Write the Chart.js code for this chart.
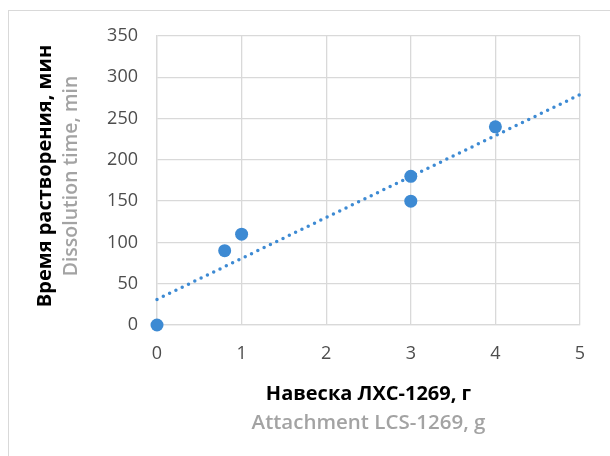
<!DOCTYPE html>
<html>
<head>
<meta charset="utf-8">
<script src="https://cdn.jsdelivr.net/npm/chart.js@4.4.1/dist/chart.umd.min.js"></script>
<style>
html,body{margin:0;padding:0;background:#fff;}
canvas{display:block;}
</style>
</head>
<body>
<canvas id="c" width="610" height="456"></canvas>
<script>
// Data
const massX = [0, 0.8, 1, 3, 3, 4];
const timeY = [0, 90, 110, 180, 150, 240];
// Linear trendline endpoints
const trendX = [0, 5];
const trendY = [31, 279];
const xTicks = [0, 1, 2, 3, 4, 5];
const yTicks = [0, 50, 100, 150, 200, 250, 300, 350];
const yTitleRu = 'Время растворения, мин';
const yTitleEn = 'Dissolution time, min';
const xTitleRu = 'Навеска ЛХС-1269, г';
const xTitleEn = 'Attachment LCS-1269, g';

const FONT = "'Open Sans', 'Noto Sans', sans-serif";
const BLUE = '#3d8ad3';

const titlesPlugin = {
  id: 'titles',
  beforeDraw(chart) {
    const ctx = chart.ctx;
    ctx.save();
    ctx.fillStyle = '#fff';
    ctx.fillRect(0, 0, chart.width, chart.height);
    ctx.strokeStyle = '#d9d9d9';
    ctx.lineWidth = 1;
    ctx.strokeRect(8.5, 10.5, 800, 800);
    ctx.restore();
  },
  afterDraw(chart) {
    const ctx = chart.ctx;
    const a = chart.chartArea;
    const cx = (a.left + a.right) / 2;
    const cy = 176;
    ctx.save();
    ctx.textAlign = 'center';
    ctx.textBaseline = 'middle';
    // x titles
    ctx.font = 'bold 20px ' + FONT;
    ctx.fillStyle = '#000';
    ctx.fillText(xTitleRu, cx, 394);
    ctx.font = '600 20.5px ' + FONT;
    ctx.fillStyle = '#a3a3a3';
    ctx.fillText(xTitleEn, cx, 423);
    // y titles
    ctx.translate(45, cy);
    ctx.rotate(-Math.PI / 2);
    ctx.font = 'bold 20px ' + FONT;
    ctx.fillStyle = '#000';
    ctx.fillText(yTitleRu, 0, 0);
    ctx.font = '600 19.5px ' + FONT;
    ctx.fillStyle = '#a3a3a3';
    ctx.fillText(yTitleEn, 0, 26);
    ctx.restore();
  }
};

new Chart(document.getElementById('c'), {
  type: 'scatter',
  data: {
    datasets: [
      {
        label: 'trend',
        type: 'line',
        data: trendX.map((x, i) => ({x: x, y: trendY[i]})),
        borderColor: BLUE,
        borderWidth: 3.5,
        borderDash: [0, 7],
        borderCapStyle: 'round',
        pointRadius: 0,
        fill: false,
        clip: false,
        order: 2
      },
      {
        label: 'data',
        data: massX.map((x, i) => ({x: x, y: timeY[i]})),
        backgroundColor: BLUE,
        borderColor: BLUE,
        pointRadius: 6.5,
        pointBorderWidth: 0,
        clip: false,
        order: 1
      }
    ]
  },
  options: {
    responsive: false,
    animation: false,
    layout: {padding: {left: 0, right: 30, top: 36, bottom: 0}},
    plugins: {legend: {display: false}, tooltip: {enabled: false}},
    scales: {
      x: {
        type: 'linear',
        min: 0, max: 5,
        afterFit(s) { s.height = 131; },
        afterBuildTicks(s) { s.ticks = xTicks.map(v => ({value: v})); },
        grid: {color: '#d9d9d9', lineWidth: 1.3, drawTicks: false},
        border: {color: '#d9d9d9', width: 1.3},
        ticks: {color: '#4d4d4d', font: {family: FONT, size: 18}, padding: 18}
      },
      y: {
        type: 'linear',
        min: 0, max: 350,
        afterFit(s) { s.width = 157; },
        afterBuildTicks(s) { s.ticks = yTicks.map(v => ({value: v})); },
        grid: {color: '#d9d9d9', lineWidth: 1.3, drawTicks: false},
        border: {color: '#d9d9d9', width: 1.3},
        ticks: {color: '#4d4d4d', font: {family: FONT, size: 18}, padding: 19}
      }
    }
  },
  plugins: [titlesPlugin]
});
</script>
</body>
</html>
